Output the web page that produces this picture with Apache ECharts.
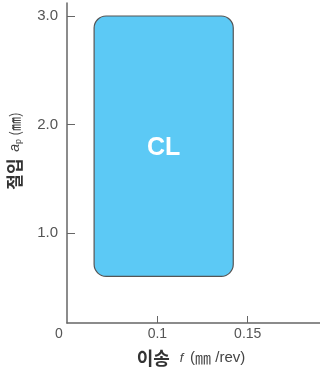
<!DOCTYPE html>
<html><head><meta charset="utf-8">
<script src="https://cdn.jsdelivr.net/npm/echarts@6/dist/echarts.min.js"></script>
<style>html,body{margin:0;padding:0;background:#fff}#c{width:320px;height:373px}</style>
</head><body><div id="c"></div>
<script>
// Data
const regionName = ['CL'];
const feedRange = [[0.065, 0.142]];   // f (mm/rev)
const depthRange = [[0.6, 3.0]];      // a_p (mm)
const xTicks = [0.05, 0.1, 0.15];     // 0.05 shown as "0" (broken axis origin)
const yTicks = [1, 2, 3];

const chart = echarts.init(document.getElementById('c'), null, {renderer: 'canvas'});
const font = '"Noto Sans CJK KR", "Noto Sans", sans-serif';
const numFont = '"Liberation Sans", Arial, sans-serif';
const axisColor = '#666';
chart.setOption({
  animation: false,
  grid: {left: 67, right: 0, top: 3, bottom: 50},
  xAxis: {
    type: 'value', min: 0.05, max: 0.19,
    splitLine: {show: false},
    axisLine: {lineStyle: {color: axisColor, width: 1.5}},
    axisTick: {inside: true, length: 7, customValues: xTicks.slice(1), lineStyle: {color: axisColor}},
    axisLabel: {customValues: xTicks, color: '#555', fontSize: 14, fontFamily: numFont, margin: 4,
      formatter: v => Math.abs(v - 0.05) < 1e-9 ? '{z|0}' : String(v),
      rich: {z: {fontSize: 14, fontFamily: numFont, color: '#555', padding: [0, 16, 0, 0]}}}
  },
  yAxis: {
    type: 'value', min: 0.17, max: 3.12,
    splitLine: {show: false},
    axisLine: {lineStyle: {color: axisColor, width: 1.5}},
    axisTick: {inside: true, length: 8, customValues: yTicks, lineStyle: {color: axisColor}},
    axisLabel: {customValues: yTicks, color: '#555', fontSize: 15, fontFamily: numFont, margin: 9,
      formatter: v => v.toFixed(1)}
  },
  series: [{
    type: 'custom',
    data: regionName.map((n, i) => [feedRange[i][0], feedRange[i][1], depthRange[i][0], depthRange[i][1], n]),
    renderItem: function (params, api) {
      const p1 = api.coord([api.value(0), api.value(3)]);
      const p2 = api.coord([api.value(1), api.value(2)]);
      return {
        type: 'rect',
        shape: {x: p1[0], y: p1[1], width: p2[0] - p1[0], height: p2[1] - p1[1], r: 12},
        style: {fill: '#5cc9f5', stroke: '#555', lineWidth: 1.2,
          text: regionName[params.dataIndex], textFill: '#fff', textOffset: [0, 2],
          fontSize: 25, fontWeight: 'bold', fontFamily: numFont, textPosition: 'inside'}
      };
    }
  }],
  graphic: [
    {type: 'text', x: 15, y: 151, rotation: Math.PI / 2,
      style: {text: '{b|절입}  {i|a}{s|p}{n| (㎜)}', align: 'center', verticalAlign: 'middle',
        rich: {b: {fontSize: 17, fontWeight: 'bold', fill: '#333', fontFamily: font},
               i: {fontSize: 14, fontStyle: 'italic', fill: '#444', fontFamily: numFont},
               s: {fontSize: 9, fill: '#444', fontFamily: numFont, padding: [7, 0, 0, 0]},
               n: {fontSize: 14, fill: '#444', fontFamily: font}}}},
    {type: 'text', x: 191, y: 358,
      style: {text: '{b|이송}   {i|f}  {n|(}{m|㎜}{n| /rev)}', align: 'center', verticalAlign: 'middle',
        rich: {b: {fontSize: 18, fontWeight: 'bold', fill: '#333', fontFamily: font},
               i: {fontSize: 13, fontStyle: 'italic', fill: '#444', fontFamily: numFont},
               m: {fontSize: 16, fill: '#444', fontFamily: font},
               n: {fontSize: 15, fill: '#444', fontFamily: numFont}}}}
  ]
});
</script></body></html>
